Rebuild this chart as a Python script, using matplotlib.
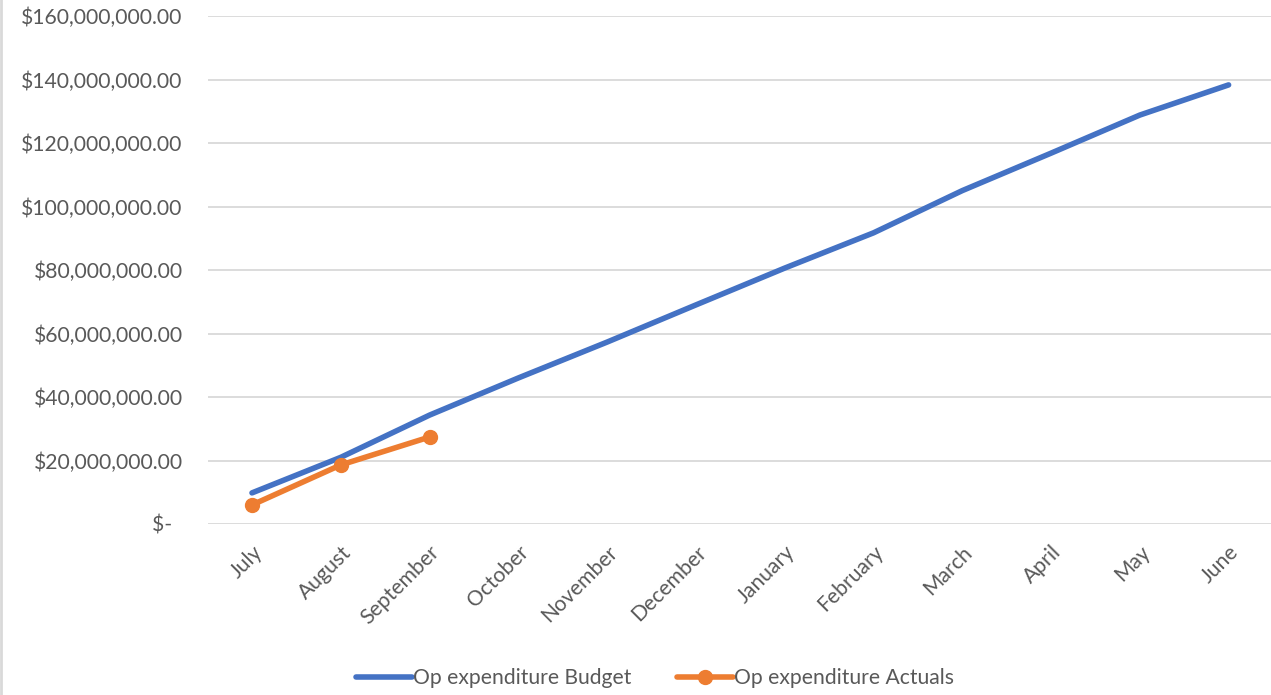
import numpy as np
import matplotlib.pyplot as plt
from matplotlib.lines import Line2D
from matplotlib.ticker import FuncFormatter, MultipleLocator

plt.rcParams['font.family'] = ['Lato', 'DejaVu Sans']

months = ['July', 'August', 'September', 'October', 'November', 'December',
          'January', 'February', 'March', 'April', 'May', 'June']
# values in dollars
budget = [9.8e6, 21.0e6, 34.3e6, 46.0e6, 57.3e6, 69.0e6,
          80.6e6, 91.7e6, 105.0e6, 116.8e6, 128.8e6, 138.3e6]
actuals = [6.0e6, 18.6e6, 27.4e6]

fig = plt.figure(figsize=(12.71, 6.95), dpi=100)
ax = fig.add_axes([207.6 / 1271, 1 - 524 / 695, (1273 - 207.6) / 1271, (524 - 16) / 695])

x = np.arange(len(months))
ax.plot(x, budget, color='#4472C4', lw=4, solid_capstyle='round',
        label='Op expenditure Budget')
ax.plot(x[:len(actuals)], actuals, color='#ED7D31', lw=4, marker='o', ms=10,
        solid_capstyle='round', label='Op expenditure Actuals')

ax.set_xlim(-0.5, len(months) - 0.5)
ax.set_ylim(0, 160e6)
ax.yaxis.set_major_locator(MultipleLocator(20e6))


def money(v, pos):
    if v == 0:
        return '$-  '
    return '${:,.2f}'.format(v)


ax.yaxis.set_major_formatter(FuncFormatter(money))
ax.grid(axis='y', color='#D9D9D9', lw=1.3)
ax.set_axisbelow(True)
for s in ax.spines.values():
    s.set_visible(False)
ax.tick_params(axis='both', length=0, labelsize=15.2, labelcolor='#595959')
ax.tick_params(axis='y', pad=18)
ax.set_xticks(x)
ax.set_xticklabels(months, rotation=45, ha='right', rotation_mode='anchor')
ax.tick_params(axis='x', pad=13)

fig.legend(loc='center', bbox_to_anchor=(655 / 1271, 1 - 678 / 695), ncol=2,
           frameon=False, fontsize=15.2, handlelength=2.65, handletextpad=0.05,
           columnspacing=2.2, labelcolor='#595959')

fig.add_artist(Line2D([1 / 1271, 1 / 1271], [0, 1], color='#D9D9D9', lw=2,
                      transform=fig.transFigure))

fig.savefig('out.png', dpi=100)
